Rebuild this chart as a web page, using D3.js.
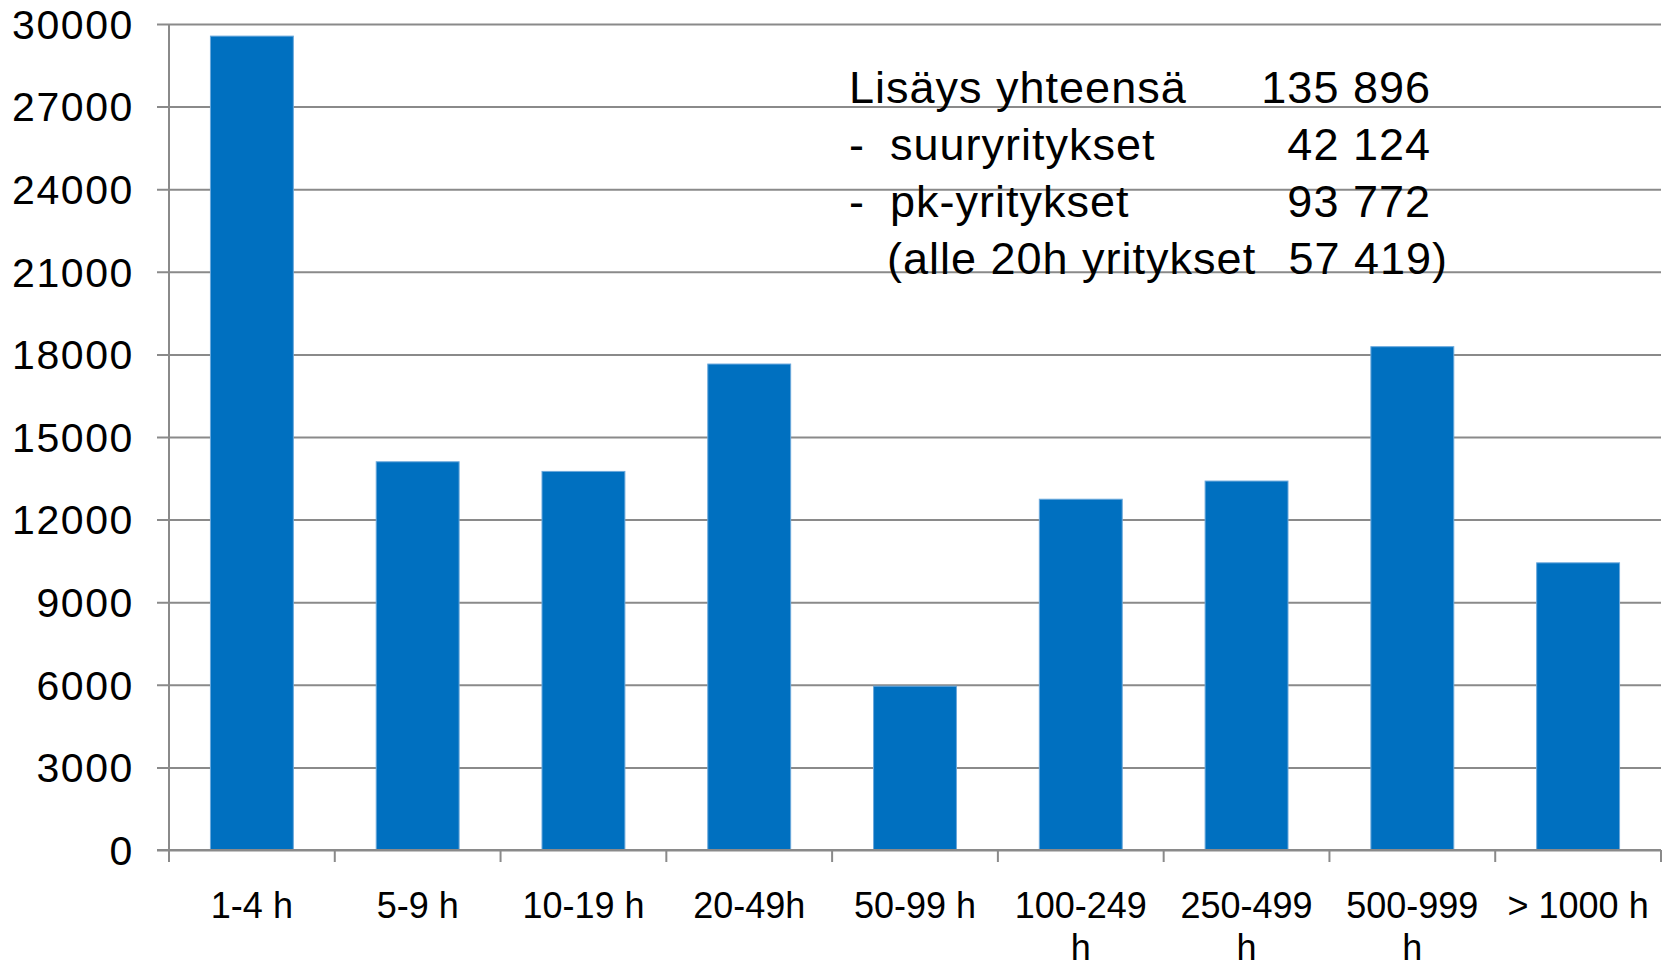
<!DOCTYPE html>
<html>
<head>
<meta charset="utf-8">
<script src="https://cdnjs.cloudflare.com/ajax/libs/d3/7.8.5/d3.min.js"></script>
<style>
	body { margin: 0; background: #fff; }
	svg { display: block; font-family: "Liberation Sans", Arial, sans-serif; }
</style>
</head>
<body>
<div id="chart"></div>
<script>
var categories = ["1-4 h", "5-9 h", "10-19 h", "20-49h", "50-99 h", "100-249 h", "250-499 h", "500-999 h", "> 1000 h"];
var values = [29560, 14100, 13750, 17650, 5950, 12740, 13400, 18280, 10430];
var yTicks = [0, 3000, 6000, 9000, 12000, 15000, 18000, 21000, 24000, 27000, 30000];

var noteLabels = ["Lisäys yhteensä", "-", "-", ""];
var noteNames = ["", "suuryritykset", "pk-yritykset", "(alle 20h yritykset"];
var noteNumbers = ["135 896", "42 124", "93 772", "57 419)"];

var width = 1670, height = 963;
var margin = {left: 169, right: 9, top: 24, bottom: 113};

var svg = d3.select("#chart").append("svg")
	.attr("width", width)
	.attr("height", height);

var x = d3.scaleBand()
	.domain(categories)
	.range([margin.left, width - margin.right])
	.paddingInner(0.5)
	.paddingOuter(0.25);

var y = d3.scaleLinear()
	.domain([0, 30000])
	.range([height - margin.bottom, margin.top]);

// gridlines + left ticks
svg.append("g")
	.attr("transform", "translate(" + margin.left + ",0)")
	.call(d3.axisLeft(y).tickValues(yTicks).tickSize(-(width - margin.left - margin.right)).tickFormat(""))
	.call(function(g) {
		g.select(".domain").remove();
		g.selectAll("line").attr("stroke", "#8a8a8a").attr("stroke-width", 2).attr("x1", -12);
	});

svg.append("g")
	.selectAll("text")
	.data(yTicks)
	.enter()
	.append("text")
	.attr("x", 134)
	.attr("y", function(d) { return y(d); })
	.attr("dy", "0.36em")
	.attr("text-anchor", "end")
	.attr("font-size", 41)
	.attr("letter-spacing", "1.6px")
	.attr("fill", "#000")
	.text(function(d) { return d; });

svg.append("g")
	.selectAll("rect")
	.data(values)
	.enter()
	.append("rect")
	.attr("x", function(d, i) { return x(categories[i]); })
	.attr("y", function(d) { return y(d); })
	.attr("width", x.bandwidth())
	.attr("height", function(d) { return y(0) - y(d); })
	.attr("fill", "#0070c0")
	.attr("stroke", "#6aa8dc")
	.attr("stroke-width", 1);

// y axis line
svg.append("line")
	.attr("x1", margin.left).attr("x2", margin.left)
	.attr("y1", y(30000)).attr("y2", y(0) + 12)
	.attr("stroke", "#8a8a8a").attr("stroke-width", 2);

// x axis with ticks on category boundaries
var step = x.step();
var bounds = d3.range(categories.length + 1).map(function(i) { return margin.left + i * step; });

svg.append("line")
	.attr("x1", margin.left - 12).attr("x2", width - margin.right)
	.attr("y1", y(0)).attr("y2", y(0))
	.attr("stroke", "#8a8a8a").attr("stroke-width", 2);

svg.append("g")
	.selectAll("line")
	.data(bounds)
	.enter()
	.append("line")
	.attr("x1", function(d) { return d; })
	.attr("x2", function(d) { return d; })
	.attr("y1", y(0))
	.attr("y2", y(0) + 12)
	.attr("stroke", "#8a8a8a")
	.attr("stroke-width", 2);

// category labels, wrapped like the original
var xl = svg.append("g")
	.selectAll("text")
	.data(categories)
	.enter()
	.append("text")
	.attr("text-anchor", "middle")
	.attr("font-size", 36)
	.attr("fill", "#000")
	.attr("y", 918);

xl.each(function(d) {
	var t = d3.select(this);
	var cx = x(d) + x.bandwidth() / 2;
	var parts = /^\d+-\d+ h$/.test(d) && d.length > 8 ? [d.slice(0, -2), "h"] : [d];
	parts.forEach(function(p, i) {
		t.append("tspan")
			.attr("x", cx)
			.attr("dy", i == 0 ? 0 : 42)
			.text(p);
	});
});

// summary box
var note = svg.append("g").attr("font-size", 45).attr("letter-spacing", "1px").attr("fill", "#000");

for (var i = 0; i < noteNumbers.length; i++) {
	var by = 103 + i * 57;
	if (noteLabels[i]) {
		note.append("text").attr("x", 849).attr("y", by).text(noteLabels[i]);
	}
	if (noteNames[i]) {
		note.append("text").attr("x", i == 3 ? 887 : 890).attr("y", by).text(noteNames[i]);
	}
	note.append("text")
		.attr("x", i == 3 ? 1448 : 1431)
		.attr("y", by)
		.attr("text-anchor", "end")
		.text(noteNumbers[i]);
}
</script>
</body>
</html>
